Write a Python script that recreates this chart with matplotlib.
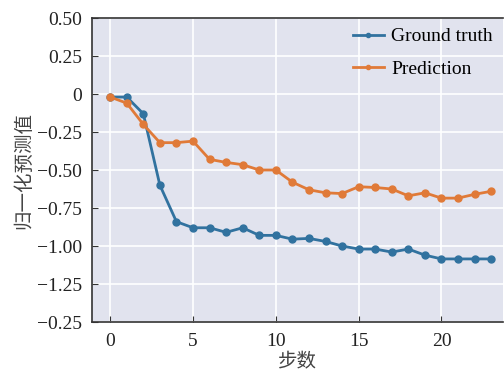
import matplotlib
matplotlib.use("Agg")
import matplotlib.pyplot as plt

steps = list(range(24))
ground_truth = [
    -0.02, -0.02, -0.13, -0.60, -0.84, -0.88, -0.88, -0.91, -0.88, -0.93,
    -0.93, -0.955, -0.95, -0.97, -1.00, -1.02, -1.02, -1.04, -1.02, -1.06,
    -1.085, -1.085, -1.085, -1.085,
]
prediction = [
    -0.02, -0.06, -0.20, -0.32, -0.32, -0.31, -0.43, -0.45, -0.465, -0.50,
    -0.50, -0.58, -0.63, -0.65, -0.655, -0.61, -0.615, -0.625, -0.67, -0.65,
    -0.685, -0.685, -0.66, -0.64,
]
y_ticks = [0.5, 0.25, 0, -0.25, -0.5, -0.75, -1.0, -1.25, -1.5]
y_tick_labels = ["0.50", "0.25", "0", "\u22120.25", "\u22120.50", "\u22120.75",
                 "\u22121.00", "\u22121.25", "\u22120.25"]
x_ticks = [0, 5, 10, 15, 20]

plt.rcParams["font.family"] = ["Liberation Serif", "Noto Sans CJK SC"]

fig = plt.figure(figsize=(5.04, 3.76), dpi=100)
ax = fig.add_axes([0.1825, 0.1436, 0.815, 0.8085])
ax.set_facecolor("#e1e3ee")

ax.plot(steps, ground_truth, color="#31729f", lw=2, marker="o", ms=5,
        label="Ground truth")
ax.plot(steps, prediction, color="#e07a38", lw=2, marker="o", ms=5,
        label="Prediction")

ax.set_xlim(-1.1, 23.7)
ax.set_ylim(-1.5, 0.5)
ax.set_xticks(x_ticks)
ax.set_yticks(y_ticks)
ax.set_yticklabels(y_tick_labels)
ax.grid(True, color="white", lw=1.2)
ax.set_axisbelow(True)
ax.tick_params(direction="in", labelsize=14, length=4, color="#333333",
               labelcolor="#222222")
ax.tick_params(axis="y", pad=7)
ax.tick_params(axis="x", pad=8)
for s in ["left", "bottom", "top"]:
    ax.spines[s].set_color("#333333")
    ax.spines[s].set_linewidth(1.2)
ax.spines["right"].set_visible(False)

ax.set_xlabel("步数", fontsize=14, family="Noto Sans CJK SC", color="#444444",
              labelpad=1)
ax.set_ylabel("归一化预测值", fontsize=14, family="Noto Sans CJK SC",
              color="#444444", labelpad=2)

leg = ax.legend(loc="upper right", frameon=False, fontsize=14, markerscale=0.6,
                handlelength=1.6, handletextpad=0.4, borderaxespad=0.1,
                labelspacing=0.75)

fig.savefig("out.png", dpi=100)
